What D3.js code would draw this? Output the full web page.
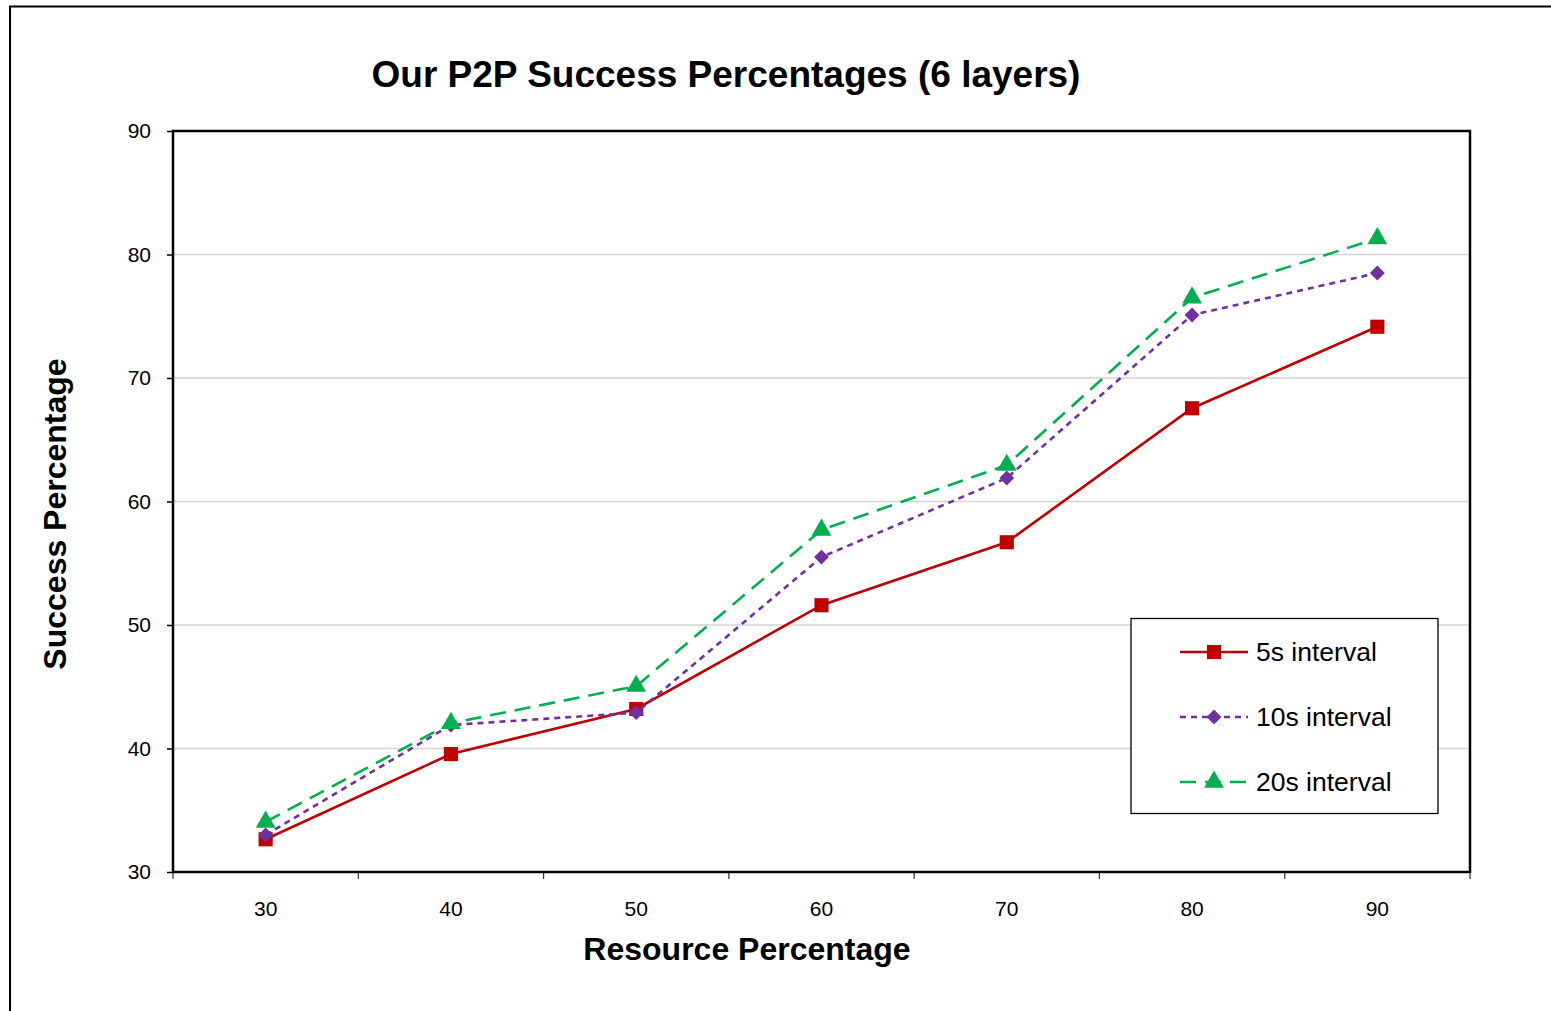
<!DOCTYPE html>
<html><head><meta charset="utf-8">
<script src="https://cdn.jsdelivr.net/npm/d3@7"></script>
<style>body{margin:0;background:#fff}svg{display:block}text{font-family:"Liberation Sans",Arial,sans-serif}</style>
</head><body>
<script>
const categories = ["30","40","50","60","70","80","90"];
const s5 = [32.65, 39.55, 43.2, 51.6, 56.7, 67.55, 74.15];
const s10 = [33.0, 41.9, 42.9, 55.5, 61.9, 75.1, 78.5];
const s20 = [34.05, 42.05, 45.05, 57.7, 62.95, 76.5, 81.3];
const seriesNames = ["5s interval","10s interval","20s interval"];
const yTicks = [30,40,50,60,70,80,90];

const W=1551,H=1011;
const svg=d3.select("body").append("svg").attr("width",W).attr("height",H);
svg.append("rect").attr("x",10).attr("y",6.5).attr("width",W).attr("height",H+10)
  .attr("fill","none").attr("stroke","#000").attr("stroke-width",2);

const L=173,R=1470,T=131,B=872;
const x=d3.scaleBand().domain(categories).range([L,R]);
const y=d3.scaleLinear().domain([30,90]).range([B,T]);

// gridlines
svg.append("g").selectAll("line").data(yTicks.filter(v=>v>30&&v<90)).join("line")
  .attr("x1",L).attr("x2",R).attr("y1",d=>y(d)).attr("y2",d=>y(d))
  .attr("stroke","#d4d4d4").attr("stroke-width",1.3);

// axes
const ya=svg.append("g").attr("transform",`translate(${L},0)`)
  .call(d3.axisLeft(y).tickValues(yTicks).tickSize(6).tickPadding(16));
ya.select(".domain").remove();
ya.selectAll("line").attr("stroke","#000").attr("stroke-width",1.5);
ya.selectAll("text").attr("font-size",21).attr("fill","#000");

const bounds=categories.map(c=>x(c)).concat([R]);
svg.append("g").selectAll("line").data(bounds).join("line")
  .attr("x1",d=>d).attr("x2",d=>d).attr("y1",B).attr("y2",B+7)
  .attr("stroke","#333").attr("stroke-width",1.2);
svg.append("g").selectAll("text").data(categories).join("text")
  .attr("x",d=>x(d)+x.bandwidth()/2).attr("y",B+44).attr("text-anchor","middle")
  .attr("font-size",21).attr("fill","#000").text(d=>d);

svg.append("rect").attr("x",L).attr("y",T).attr("width",R-L).attr("height",B-T)
  .attr("fill","none").attr("stroke","#000").attr("stroke-width",2.5);

// titles
svg.append("text").attr("x",726).attr("y",87).attr("text-anchor","middle")
  .attr("font-size",37).attr("font-weight","bold").text("Our P2P Success Percentages (6 layers)");
svg.append("text").attr("x",747).attr("y",960).attr("text-anchor","middle")
  .attr("font-size",32).attr("font-weight","bold").text("Resource Percentage");
svg.append("text").attr("transform","translate(66,514) rotate(-90)").attr("text-anchor","middle")
  .attr("font-size",32).attr("font-weight","bold").text("Success Percentage");

const cx=c=>x(c)+x.bandwidth()/2;
const series=[
 {name:seriesNames[0],vals:s5,color:"#c00000",dash:null,sym:d3.symbolSquare,size:200,rot:0},
 {name:seriesNames[1],vals:s10,color:"#7030a0",dash:"6,5",sym:d3.symbolSquare,size:110,rot:45},
 {name:seriesNames[2],vals:s20,color:"#00b050",dash:"16,9",sym:d3.symbolTriangle,size:170,rot:0}
];
const line=d3.line().x(d=>cx(d.c)).y(d=>y(d.v));
series.forEach(s=>{
  const pts=categories.map((c,i)=>({c,v:s.vals[i]}));
  svg.append("path").datum(pts).attr("d",line).attr("fill","none")
    .attr("stroke",s.color).attr("stroke-width",2.6).attr("stroke-dasharray",s.dash);
  svg.append("g").selectAll("path").data(pts).join("path")
    .attr("d",d3.symbol().type(s.sym).size(s.size))
    .attr("transform",d=>`translate(${cx(d.c)},${y(d.v)}) rotate(${s.rot})`).attr("fill",s.color);
});

// legend
const lg=svg.append("g");
lg.append("rect").attr("x",1131).attr("y",618.5).attr("width",307).attr("height",195)
  .attr("fill","#fff").attr("stroke","#000").attr("stroke-width",1.3);
series.forEach((s,i)=>{
  const yy=652+i*65;
  lg.append("line").attr("x1",1180).attr("x2",1248).attr("y1",yy).attr("y2",yy)
    .attr("stroke",s.color).attr("stroke-width",2.6).attr("stroke-dasharray",s.dash);
  lg.append("path").attr("d",d3.symbol().type(s.sym).size(s.size)).attr("transform",`translate(1214,${yy}) rotate(${s.rot})`).attr("fill",s.color);
  lg.append("text").attr("x",1256).attr("y",yy+9).attr("font-size",26.5).text(s.name);
});
</script>
</body></html>
